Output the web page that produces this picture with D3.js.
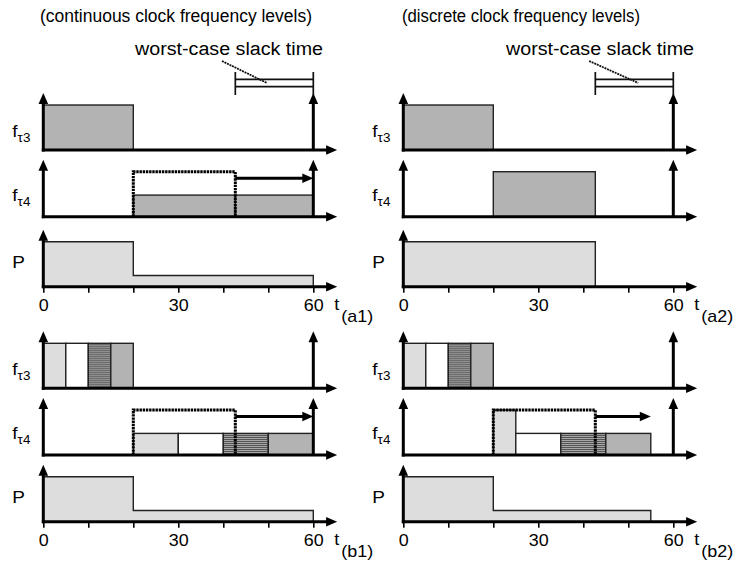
<!DOCTYPE html>
<html>
<head>
<meta charset="utf-8">
<script src="https://cdn.jsdelivr.net/npm/d3@7"></script>
<style>
  body { margin: 0; background: #fff; }
  svg { display: block; font-family: "Liberation Sans", Arial, sans-serif; }
</style>
</head>
<body>
<svg width="739" height="567"></svg>
<script>
// ---- data ----
const panelIds = ["a1", "a2", "b1", "b2"];
const columnTitles = ["(continuous clock frequency levels)", "(discrete clock frequency levels)"];
const slackLabel = "worst-case slack time";
const deadline = 60;
const slackStart = 42.67;
const timeTicks = [0, 10, 20, 30, 40, 50, 60];
const labelledTicks = [0, 30, 60];

// [panel, start, end, frequency level, sub-part (0 = whole job)]
const tau3Jobs = [
  ["a1", 0, 20, 1, 0], ["a2", 0, 20, 1, 0],
  ["b1", 0, 5, 1, 1], ["b1", 5, 10, 1, 2], ["b1", 10, 15, 1, 3], ["b1", 15, 20, 1, 4],
  ["b2", 0, 5, 1, 1], ["b2", 5, 10, 1, 2], ["b2", 10, 15, 1, 3], ["b2", 15, 20, 1, 4]
];
const tau4Jobs = [
  ["a1", 20, 42.67, 0.48, 0], ["a1", 42.67, 60, 0.48, 0],
  ["a2", 20, 42.67, 1, 0],
  ["b1", 20, 30, 0.48, 1], ["b1", 30, 40, 0.48, 2], ["b1", 40, 50, 0.48, 3], ["b1", 50, 60, 0.48, 4],
  ["b2", 20, 25, 1, 1], ["b2", 25, 35, 0.48, 2], ["b2", 35, 45, 0.48, 3], ["b2", 45, 55, 0.48, 4]
];
// worst-case reservation of tau4: [panel, start, end, level, stretched until]
const reservations = [
  ["a1", 20, 42.67, 1, 60],
  ["b1", 20, 42.67, 1, 60],
  ["b2", 20, 42.67, 1, 55]
];
// power profile, [time, level] steps
const powerA1 = [[0, 1], [20, 0.25], [60, 0]];
const powerA2 = [[0, 1], [42.67, 0]];
const powerB1 = [[0, 1], [20, 0.25], [60, 0]];
const powerB2 = [[0, 1], [20, 0.25], [55, 0]];
const powerByPanel = { a1: powerA1, a2: powerA2, b1: powerB1, b2: powerB2 };

// ---- layout ----
const svg = d3.select("svg");
const colX = [43.3, 403.3];
const rowBase = [[150, 216.7, 286.7], [388.3, 455, 521.7]];
const stretchX = 1.12;
const partFill = ["#b3b3b3", "#dddddd", "#ffffff", "url(#hatch)", "#b3b3b3"];

const x = d3.scaleLinear().domain([0, 60]).range([0, 270]);
const y = d3.scaleLinear().domain([0, 1]).range([0, -45]);

const defs = svg.append("defs");
const pat = defs.append("pattern")
  .attr("id", "hatch")
  .attr("patternUnits", "userSpaceOnUse")
  .attr("width", 4)
  .attr("height", 2);
pat.append("rect").attr("width", 4).attr("height", 2).attr("fill", "#a6a6a6");
pat.append("rect").attr("width", 4).attr("height", 1).attr("fill", "#555");

function label(g, tx, ty, text, size, anchor) {
  return g.append("text")
    .attr("transform", "translate(" + tx + "," + ty + ") scale(" + stretchX + ",1)")
    .attr("font-size", size)
    .attr("text-anchor", anchor || "start")
    .attr("fill", "#000")
    .text(text);
}

function arrowHead(g, tx, ty, dir) {
  // dir: "up" or "right", tip at (tx, ty)
  const L = 11, W = 4.8;
  const pts = dir === "up"
    ? [[tx, ty], [tx - W, ty + L], [tx + W, ty + L]]
    : [[tx, ty], [tx - L, ty - W], [tx - L, ty + W]];
  g.append("path").attr("d", "M" + pts.join("L") + "Z").attr("fill", "#000");
}

function axes(g, withDeadline) {
  const tipX = x(65.3), tipY = -57;
  g.append("line").attr("x1", -1.5).attr("x2", tipX - 8).attr("y1", 0).attr("y2", 0)
    .attr("stroke", "#000").attr("stroke-width", 3);
  arrowHead(g, tipX, 0, "right");
  g.append("line").attr("x1", 0).attr("x2", 0).attr("y1", 1.5).attr("y2", tipY + 8)
    .attr("stroke", "#000").attr("stroke-width", 3);
  arrowHead(g, 0, tipY, "up");
  if (withDeadline) {
    g.append("line").attr("x1", x(deadline)).attr("x2", x(deadline)).attr("y1", 0).attr("y2", tipY + 8)
      .attr("stroke", "#000").attr("stroke-width", 3);
    arrowHead(g, x(deadline), tipY, "up");
  }
}

function jobs(g, list) {
  g.selectAll("rect.job").data(list).join("rect")
    .attr("class", "job")
    .attr("x", d => x(d[1]))
    .attr("y", d => y(d[3]))
    .attr("width", d => x(d[2]) - x(d[1]))
    .attr("height", d => y(0) - y(d[3]))
    .attr("fill", d => partFill[d[4]])
    .attr("stroke", "#222")
    .attr("stroke-width", 1.4);
}

function rowName(g, main, sub, dy) {
  const t = g.append("text")
    .attr("transform", "translate(-31," + dy + ") scale(" + stretchX + ",1)")
    .attr("font-size", 17);
  t.append("tspan").text(main);
  if (sub) t.append("tspan").attr("font-size", 12).attr("dy", 5).text(sub);
}

panelIds.forEach((id, i) => {
  const col = i % 2, half = Math.floor(i / 2);
  const panel = svg.append("g").attr("transform", "translate(" + colX[col] + ",0)");
  const rows = rowBase[half].map(b => panel.append("g").attr("transform", "translate(0," + b + ")"));

  // tau3 row
  jobs(rows[0], tau3Jobs.filter(d => d[0] === id));
  axes(rows[0], true);
  rowName(rows[0], "f", "\u03c43", -13);

  // tau4 row
  jobs(rows[1], tau4Jobs.filter(d => d[0] === id));
  reservations.filter(d => d[0] === id).forEach(r => {
    rows[1].append("path")
      .attr("d", "M" + x(r[1]) + "," + y(0) + "V" + y(r[3]) + "H" + x(r[2]) + "V" + y(0))
      .attr("fill", "none").attr("stroke", "#000").attr("stroke-width", 3)
      .attr("stroke-dasharray", "2.4,0.8");
    const ay = y(0.855);
    rows[1].append("line").attr("x1", x(r[2])).attr("x2", x(r[4]) - 8).attr("y1", ay).attr("y2", ay)
      .attr("stroke", "#000").attr("stroke-width", 3);
    arrowHead(rows[1], x(r[4]), ay, "right");
  });
  axes(rows[1], true);
  rowName(rows[1], "f", "\u03c44", -16);

  // power row
  const area = d3.area()
    .x(d => x(d[0]))
    .y0(y(0))
    .y1(d => y(d[1]))
    .curve(d3.curveStepAfter);
  rows[2].append("path")
    .attr("d", area(powerByPanel[id]))
    .attr("fill", "#dddddd").attr("stroke", "#222").attr("stroke-width", 1.4);

  const ax = d3.axisBottom(x)
    .tickValues(timeTicks)
    .tickSize(6)
    .tickPadding(7)
    .tickFormat(d => labelledTicks.includes(d) ? d : "");
  const axg = rows[2].append("g").call(ax);
  axg.select(".domain").remove();
  axg.selectAll(".tick line").attr("stroke", "#000").attr("stroke-width", 1.6);
  axg.selectAll(".tick text")
    .attr("font-size", 16)
    .attr("font-family", "Liberation Sans, Arial, sans-serif")
    .attr("fill", "#000")
    .attr("transform", "scale(" + stretchX + ",1)");
  axes(rows[2], false);
  rowName(rows[2], "P", null, -19);

  label(rows[2], x(deadline) + 21, 23.5, "t", 16);
  label(rows[2], x(deadline) + 28, 35.5, "(" + id + ")", 16);

  // worst-case slack annotation on the top panels
  if (half === 0) {
    const top = rows[0];
    [-70.7, -63.3].forEach(ly => {
      top.append("line").attr("x1", x(slackStart)).attr("x2", x(deadline)).attr("y1", ly).attr("y2", ly)
        .attr("stroke", "#111").attr("stroke-width", 1.7);
    });
    [slackStart, deadline].forEach(t => {
      top.append("line").attr("x1", x(t)).attr("x2", x(t)).attr("y1", -78).attr("y2", -55)
        .attr("stroke", "#111").attr("stroke-width", 1.7);
    });
    const lead = col === 0 ? [39.7, 49.7] : [41.3, 52.2];
    top.append("line").attr("x1", x(lead[0])).attr("y1", -89).attr("x2", x(lead[1])).attr("y2", -67)
      .attr("stroke", "#111").attr("stroke-width", 1.8).attr("stroke-dasharray", "2,0.8");
  }
});

// column titles and slack labels
svg.append("text").attr("x", 40).attr("y", 22).attr("font-size", 18)
  .attr("textLength", 272).attr("lengthAdjust", "spacingAndGlyphs").text(columnTitles[0]);
svg.append("text").attr("x", 402).attr("y", 22).attr("font-size", 18)
  .attr("textLength", 238).attr("lengthAdjust", "spacingAndGlyphs").text(columnTitles[1]);
svg.append("text").attr("x", 135).attr("y", 55).attr("font-size", 18)
  .attr("textLength", 188).attr("lengthAdjust", "spacingAndGlyphs").text(slackLabel);
svg.append("text").attr("x", 506).attr("y", 55).attr("font-size", 18)
  .attr("textLength", 188).attr("lengthAdjust", "spacingAndGlyphs").text(slackLabel);
</script>
</body>
</html>
